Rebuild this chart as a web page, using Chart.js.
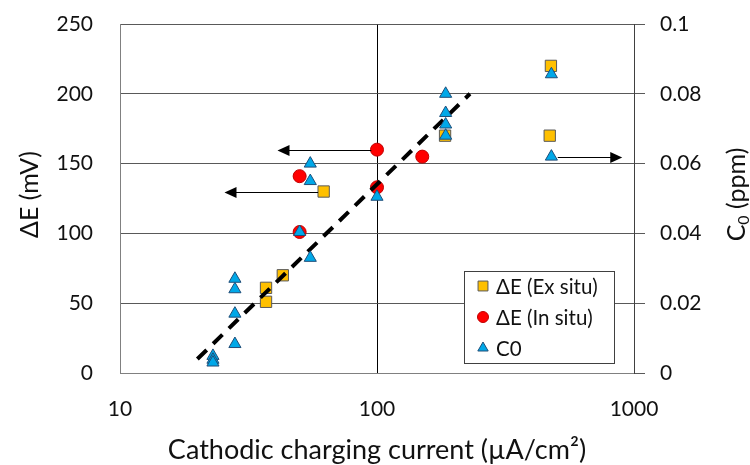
<!DOCTYPE html>
<html>
<head>
<meta charset="utf-8">
<script src="https://cdn.jsdelivr.net/npm/chart.js@4.4.0/dist/chart.umd.min.js"></script>
<style>
  html, body { margin: 0; padding: 0; background: #fff; }
  #wrap { width: 750px; height: 465px; }
</style>
</head>
<body>
<div id="wrap"><canvas id="chart" width="750" height="465"></canvas></div>
<script>
const exSituX = [475, 470, 184, 62, 43, 37, 37];
const exSituY = [220, 170, 170, 130, 70, 61, 51];
const inSituX = [100, 50, 100, 150, 50];
const inSituY = [160, 141, 133, 155, 101];
const c0X = [55, 55, 100, 50, 55, 28, 28, 28, 28, 23, 23, 23, 185, 185, 185, 185, 477, 477];
const c0Y = [0.060, 0.055, 0.0505, 0.0404, 0.033, 0.027, 0.024, 0.017, 0.0083, 0.0049, 0.0038, 0.003, 0.080, 0.0745, 0.0712, 0.068, 0.0856, 0.062];
const trendX = [20, 230];
const trendY = [10, 200];
const xTicks = [10, 100, 1000];
const legendLabels = ['ΔE (Ex situ)', 'ΔE (In situ)', 'C0'];
// arrows pointing to the axis each series belongs to
const arrowY = [160, 130, 0.062];
const arrowFrom = [95, 59, 505];
const arrowTo = [41, 25.5, 900];
const arrowAxis = ['y', 'y', 'y1'];

const FONT = 'Lato, "Open Sans", sans-serif';
const pts = (xs, ys) => xs.map((x, i) => ({ x: x, y: ys[i] }));

// tick padding would otherwise push the plot area down
const noEdgePad = s => { s.paddingTop = 0; s.paddingBottom = 0; };

const overlay = {
  id: 'overlay',
  afterDatasetsDraw(chart) {
    const ctx = chart.ctx;
    const xs = chart.scales.x;
    ctx.save();
    ctx.strokeStyle = '#000';
    ctx.fillStyle = '#000';
    ctx.lineWidth = 1;
    arrowY.forEach((v, i) => {
      const py = Math.round(chart.scales[arrowAxis[i]].getPixelForValue(v)) + 0.5;
      const x0 = xs.getPixelForValue(arrowFrom[i]);
      const x1 = xs.getPixelForValue(arrowTo[i]);
      const dir = x1 > x0 ? 1 : -1;
      ctx.beginPath();
      ctx.moveTo(x0, py);
      ctx.lineTo(x1 - dir * 10, py);
      ctx.stroke();
      ctx.beginPath();
      ctx.moveTo(x1, py);
      ctx.lineTo(x1 - dir * 12, py - 5.5);
      ctx.lineTo(x1 - dir * 12, py + 5.5);
      ctx.closePath();
      ctx.fill();
    });
    ctx.restore();
  },
  afterDraw(chart) {
    const ctx = chart.ctx;
    const a = chart.chartArea;
    const midY = (a.top + a.bottom) / 2 - 4;
    ctx.save();
    ctx.fillStyle = '#111';
    ctx.textBaseline = 'alphabetic';

    // x title
    ctx.font = '27px ' + FONT;
    ctx.textAlign = 'center';
    ctx.fillText('Cathodic charging current (µA/cm²)', (a.left + a.right) / 2, 459);

    // left title
    ctx.font = '25px ' + FONT;
    ctx.save();
    ctx.translate(38, midY);
    ctx.rotate(-Math.PI / 2);
    ctx.fillText('ΔE (mV)', 0, 0);
    ctx.restore();

    // right title with subscript
    ctx.save();
    ctx.translate(745, midY);
    ctx.rotate(-Math.PI / 2);
    ctx.textAlign = 'left';
    const big = '25px ' + FONT, small = '16px ' + FONT;
    ctx.font = big;
    const wC = ctx.measureText('C').width;
    const wRest = ctx.measureText(' (ppm)').width;
    ctx.font = small;
    const w0 = ctx.measureText('0').width;
    let sx = -(wC + w0 + wRest) / 2;
    ctx.font = big;
    ctx.fillText('C', sx, 0);
    ctx.font = small;
    ctx.fillText('0', sx + wC, 4);
    ctx.font = big;
    ctx.fillText(' (ppm)', sx + wC + w0, 0);
    ctx.restore();

    // legend
    const lx = 464.5, ly = 271.5, lw = 150, lh = 92;
    ctx.fillStyle = '#fff';
    ctx.fillRect(lx, ly, lw, lh);
    ctx.strokeStyle = '#404040';
    ctx.lineWidth = 1;
    ctx.strokeRect(lx, ly, lw, lh);
    ctx.font = '20.5px ' + FONT;
    ctx.textAlign = 'left';
    ctx.textBaseline = 'middle';
    [0, 1, 2].forEach(i => {
      const ds = chart.data.datasets[i];
      const cy = 286 + i * 31;
      ctx.fillStyle = ds.backgroundColor;
      ctx.strokeStyle = ds.borderColor;
      ctx.lineWidth = ds.borderWidth;
      Chart.helpers.drawPoint(ctx, {
        pointStyle: ds.pointStyle,
        radius: ds.pointRadius - 1,
        borderWidth: ds.borderWidth,
        rotation: 0
      }, 483, cy);
      ctx.fillStyle = '#111';
      ctx.fillText(legendLabels[i], 496, cy + 1);
    });
    ctx.restore();
  }
};

new Chart(document.getElementById('chart'), {
  type: 'scatter',
  data: {
    datasets: [{
      label: legendLabels[0],
      data: pts(exSituX, exSituY),
      pointStyle: 'rect',
      pointRadius: 8,
      backgroundColor: '#FFC000',
      borderColor: '#595959',
      borderWidth: 1,
      yAxisID: 'y',
      order: 4
    }, {
      label: legendLabels[1],
      data: pts(inSituX, inSituY),
      pointStyle: 'circle',
      pointRadius: 6.5,
      backgroundColor: '#FF0000',
      borderColor: '#C00000',
      borderWidth: 1,
      yAxisID: 'y',
      order: 3
    }, {
      label: legendLabels[2],
      data: pts(c0X, c0Y),
      pointStyle: 'triangle',
      pointRadius: 7,
      backgroundColor: '#00A8E8',
      borderColor: '#1F4E79',
      borderWidth: 1,
      yAxisID: 'y1',
      order: 1
    }, {
      label: 'trend',
      data: pts(trendX, trendY),
      showLine: true,
      pointRadius: 0,
      borderColor: '#000',
      borderWidth: 4,
      borderDash: [13, 9],
      yAxisID: 'y',
      order: 2
    }]
  },
  options: {
    responsive: false,
    devicePixelRatio: 1,
    animation: false,
    layout: { padding: { top: 24, left: 0, right: 0, bottom: 0 } },
    plugins: {
      legend: { display: false },
      tooltip: { enabled: false }
    },
    scales: {
      x: {
        type: 'logarithmic',
        min: 10,
        max: 1000,
        afterBuildTicks: s => { s.ticks = xTicks.map(v => ({ value: v })); },
        afterFit: s => { s.height = 92; },
        ticks: {
          callback: v => String(v),
          font: { family: FONT, size: 21 },
          color: '#111',
          padding: 24,
          maxRotation: 0
        },
        grid: {
          color: c => (c.tick && c.tick.value === 100) ? '#000' : 'rgba(0,0,0,0)',
          drawTicks: false
        },
        border: { color: '#808080' }
      },
      y: {
        position: 'left',
        min: 0,
        max: 250,
        afterFit: s => { s.width = 120; noEdgePad(s); },
        ticks: {
          stepSize: 50,
          font: { family: FONT, size: 21 },
          color: '#111',
          padding: 27
        },
        grid: { color: '#595959', drawTicks: false },
        border: { color: '#808080' }
      },
      y1: {
        position: 'right',
        min: 0,
        max: 0.1,
        afterFit: s => { s.width = 116; noEdgePad(s); },
        ticks: {
          stepSize: 0.02,
          callback: v => String(+v.toFixed(2)),
          font: { family: FONT, size: 21 },
          color: '#111',
          padding: 15
        },
        grid: { drawOnChartArea: false, drawTicks: true, tickLength: 11, color: '#595959' },
        border: { color: '#404040' }
      }
    }
  },
  plugins: [overlay]
});
</script>
</body>
</html>
